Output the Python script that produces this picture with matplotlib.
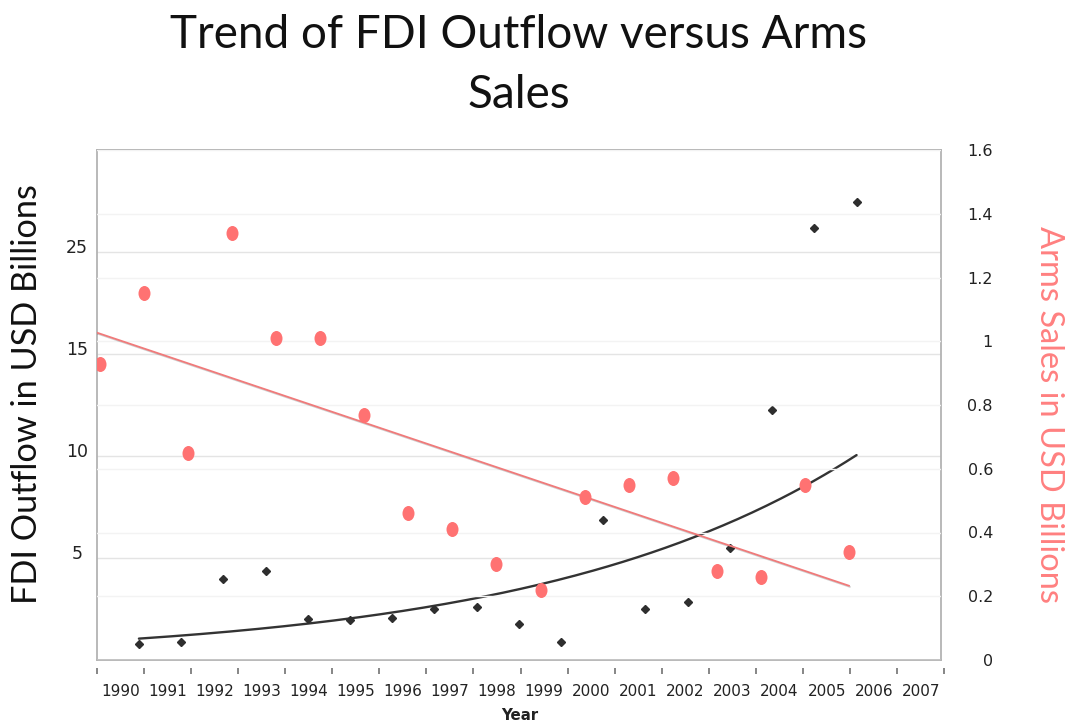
import numpy as np
import matplotlib
matplotlib.use("Agg")
import matplotlib.pyplot as plt
from matplotlib.path import Path
from matplotlib.transforms import Affine2D, ScaledTranslation
import matplotlib.patheffects as pe

# ---- data -------------------------------------------------------------
years = list(range(1990, 2008))
fdi_outflow = [0.80, 0.88, 3.97, 4.37, 2.00, 1.98, 2.07, 2.52, 2.60, 1.75,
               0.88, 6.88, 2.52, 2.83, 5.50, 12.24, 21.16, 22.47]
arms_sales = [0.93, 1.15, 0.65, 1.34, 1.01, 1.01, 0.77, 0.46, 0.41, 0.30,
              0.22, 0.51, 0.55, 0.57, 0.28, 0.26, 0.55, 0.34]
category_labels = [str(y) for y in years]
fdi_ticks = [5, 10, 15, 20]
fdi_tick_labels = ["5", "10", "15", "25"]
arms_ticks = [0, 0.2, 0.4, 0.6, 0.8, 1.0, 1.2, 1.4, 1.6]
arms_tick_labels = ["0", "0.2", "0.4", "0.6", "0.8", "1", "1.2", "1.4", "1.6"]

# ---- styling ----------------------------------------------------------
RED = "#ff7272"
RED_LINE = "#f07a7a"
DARK = "#2e2e2e"
FRAME = "#b3b3b3"
TITLE_FONT = "Lato"
TICK_FONT = "DejaVu Sans"

W, H = 1075, 728
fig = plt.figure(figsize=(W / 100, H / 100), dpi=100)

L, R, T, B = 96.7, 941, 150, 660
pos = [L / W, 1 - B / H, (R - L) / W, (B - T) / H]

# FDI axes (left scale, black series)
ax = fig.add_axes(pos, zorder=1)
ax.set_xlim(1989, 2009)
ax.set_ylim(0, 25)
for s in ax.spines.values():
    s.set_color(FRAME)
    s.set_linewidth(1.3)
ax.set_xticks([])
ax.set_yticks(fdi_ticks)
ax.set_yticklabels(fdi_tick_labels, ha="center", fontsize=12.5,
                   family=TICK_FONT, color="#222222")
ax.tick_params(axis="y", length=0, pad=14.2)
up = ScaledTranslation(0, 6 / 100, fig.dpi_scale_trans)
for lab in ax.get_yticklabels():
    lab.set_transform(lab.get_transform() + up)
ax.grid(axis="y", color="#e4e4e4", linewidth=1.0)
ax.set_axisbelow(True)

ax.plot(years, fdi_outflow, linestyle="none", marker="D", markersize=4.2,
        color=DARK, zorder=3)

t = np.array(years, dtype=float) - years[0]
k, c = np.polyfit(t, np.log(fdi_outflow), 1)
tt = np.linspace(t[0], t[-1], 200)
ax.plot(years[0] + tt, np.exp(c + k * tt), color="#333333", linewidth=1.7,
        zorder=2, solid_capstyle="round")

# Arms-sales axes (right scale, red series)
ax2 = fig.add_axes(pos, zorder=2, frameon=False)
ax2.patch.set_visible(False)
ax2.set_xlim(1989.925, 2009.09)
ax2.set_ylim(0, 1.6)
ax2.xaxis.set_visible(False)
ax2.yaxis.tick_right()
ax2.set_yticks(arms_ticks)
ax2.set_yticklabels(arms_tick_labels, ha="right", fontsize=11.5,
                    family=TICK_FONT, color="#222222")
ax2.tick_params(axis="y", length=0, pad=37.4)
ax2.grid(axis="y", color="#f3f3f3", linewidth=1.0)

ellipse = Path.unit_circle().transformed(Affine2D().scale(0.8, 1.0))
ax2.plot(years, arms_sales, linestyle="none", marker=ellipse,
         markersize=10.8, color=RED, markeredgewidth=0, zorder=4)

m, b0 = np.polyfit(years, arms_sales, 1)
xs = np.array([ax2.get_xlim()[0], years[-1]])
ax2.plot(xs, m * xs + b0, color=RED_LINE, linewidth=1.3, zorder=3,
         path_effects=[pe.SimpleLineShadow(offset=(0.6, -0.8), alpha=0.18),
                       pe.Normal()])

# Category axis along the bottom
axc = fig.add_axes([L / W, 1 - (B + 8) / H, 847.7 / W, 0.0005],
                   frameon=False, zorder=0)
axc.set_xlim(0, len(years))
axc.set_yticks([])
axc.set_xticks(np.arange(len(years) + 1))
axc.set_xticklabels([])
axc.set_xticks(np.arange(len(years)) + 0.5, minor=True)
axc.set_xticklabels(category_labels, minor=True, fontsize=11,
                    family=TICK_FONT, color="#222222")
axc.tick_params(axis="x", which="major", length=4, width=1.1, color="#666666")
axc.tick_params(axis="x", which="minor", length=0, pad=11.5)

fig.text(520 / W, 1 - 716 / H, "Year", ha="center", va="center",
         fontsize=10.8, fontweight="bold", family=TICK_FONT, color="#222222")

# Titles and axis labels
fig.text(519 / W, 1 - 48 / H, "Trend of FDI Outflow versus Arms",
         ha="center", va="baseline", fontsize=33, family=TITLE_FONT,
         color="#111111")
fig.text(519 / W, 1 - 108 / H, "Sales", ha="center", va="baseline",
         fontsize=33, family=TITLE_FONT, color="#111111")
fig.text(27 / W, 1 - 394 / H, "FDI Outflow in USD Billions", rotation=90,
         ha="center", va="center", fontsize=24.7, family=TITLE_FONT,
         color="#111111")
fig.text(1049 / W, 1 - 415 / H, "Arms Sales in USD Billions", rotation=270,
         ha="center", va="center", fontsize=23.5, family=TITLE_FONT,
         color="#ff8080")

fig.savefig("out.png", dpi=100)
